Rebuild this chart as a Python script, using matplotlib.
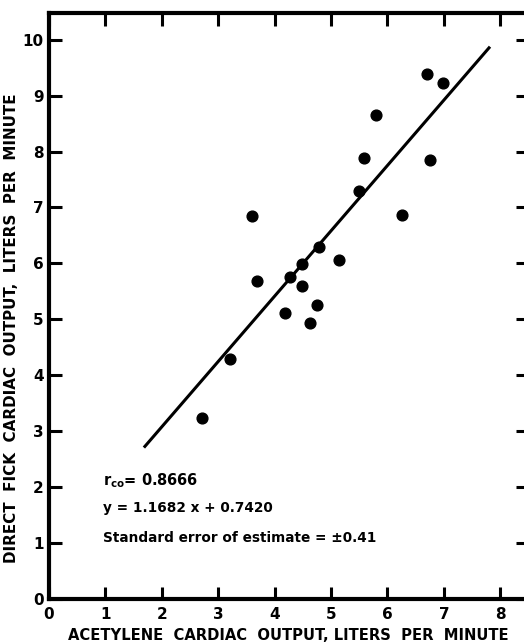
import matplotlib.pyplot as plt
import numpy as np

# acetylene vs direct Fick cardiac output (L/min)
acetylene = [6.70, 6.99, 5.79, 5.59, 6.76, 5.50, 3.60, 6.25, 4.79, 5.14,
             4.49, 3.68, 4.27, 4.49, 4.75, 4.18, 4.62, 3.21, 2.71]
fick = [9.39, 9.22, 8.65, 7.88, 7.84, 7.30, 6.85, 6.86, 6.30, 6.06,
        5.99, 5.68, 5.75, 5.59, 5.26, 5.11, 4.93, 4.29, 3.23]

slope = 1.1682
intercept = 0.7420
line_x = [1.7, 7.8]

x_ticks = [0, 1, 2, 3, 4, 5, 6, 7, 8]
y_ticks = [0, 1, 2, 3, 4, 5, 6, 7, 8, 9, 10]

plt.rcParams['font.family'] = ['DejaVu Sans']
plt.rcParams['font.weight'] = 'bold'

fig = plt.figure(figsize=(5.24, 6.42), dpi=100)
# right edge of the box sits just past the picture, like the scan
ax = fig.add_axes([0.0935, 0.067, 0.914, 0.913])

ax.scatter(acetylene, fick, s=60, c='black', zorder=3)
lx = np.array(line_x)
ax.plot(lx, slope * lx + intercept, c='black', lw=2.2)

ax.set_xlim(0, 8.49)
ax.set_ylim(0, 10.48)
ax.set_xticks(x_ticks)
ax.set_yticks(y_ticks)
ax.tick_params(axis='both', direction='in', length=9, width=2.2,
               labelsize=11, top=True, right=True, pad=6)
ax.tick_params(axis='y', pad=4)
for s in ax.spines.values():
    s.set_linewidth(3)

ax.set_xlabel('ACETYLENE  CARDIAC  OUTPUT, LITERS  PER  MINUTE',
              fontsize=10.6, fontweight='bold', labelpad=4)
ax.set_ylabel('DIRECT  FICK  CARDIAC  OUTPUT,  LITERS  PER  MINUTE',
              fontsize=10.9, fontweight='bold')
ax.yaxis.set_label_coords(-0.062, 0.462)

ax.text(0.96, 2.11, r'r$_{\mathbf{co}}$= 0.8666', fontsize=10.5, va='center')
ax.text(0.96, 1.63, 'y = 1.1682 x + 0.7420', fontsize=9.8, va='center')
ax.text(0.96, 1.09, 'Standard error of estimate = \u00b10.41', fontsize=9.8, va='center')

plt.savefig('out.png', dpi=100)
